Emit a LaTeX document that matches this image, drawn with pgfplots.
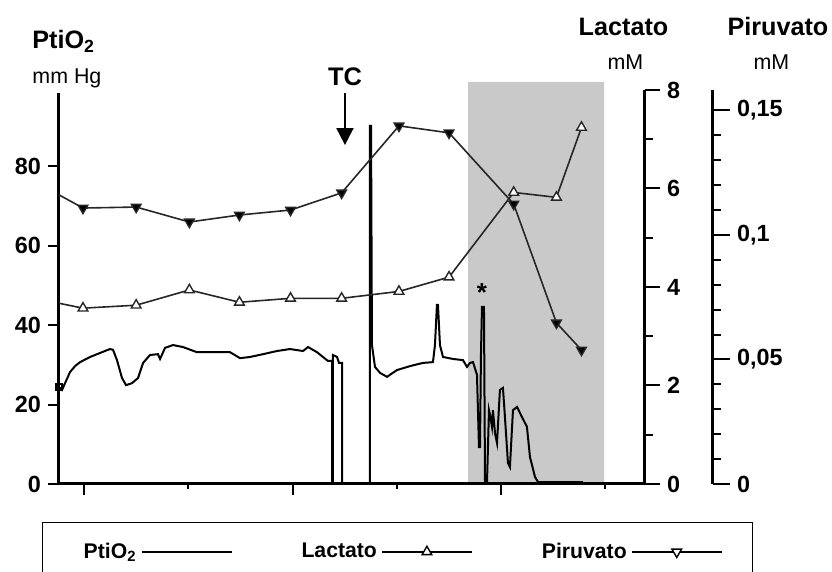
\documentclass[border=0pt]{standalone}
\usepackage{fontspec}
\setmainfont{Liberation Sans}
\usepackage{pgfplots}
\usepackage{pgfplotstable}
\pgfplotsset{compat=1.18}
\usetikzlibrary{arrows.meta}

% PtiO2 trace (mm Hg)
\pgfplotstableread{
x y
-0.240 24.4
-0.211 23.7
-0.182 25.4
-0.134 28.2
-0.086 29.7
-0.038 30.7
0.058 32.0
0.153 33.0
0.249 34.0
0.278 33.8
0.316 31.2
0.364 26.7
0.403 24.9
0.460 25.4
0.518 26.7
0.566 30.5
0.633 32.5
0.709 32.7
0.729 31.5
0.777 34.3
0.853 35.0
0.949 34.5
1.083 33.2
1.275 33.2
1.400 33.2
1.496 31.7
1.592 32.0
1.716 32.7
1.850 33.5
1.975 34.0
2.100 33.5
2.148 34.5
2.234 33.2
2.291 32.0
2.339 31.0
2.378 31.0
2.378 0
2.387 0
2.387 32.5
2.426 32.0
2.445 30.5
2.474 30.5
2.474 0
2.742 0
2.742 90.2
2.752 90.2
2.761 35.0
2.790 29.5
2.838 28.0
2.905 27.0
3.001 28.7
3.126 29.7
3.250 30.5
3.346 30.7
3.365 35.0
3.384 45.1
3.394 45.1
3.413 35.0
3.442 32.0
3.538 31.5
3.634 31.2
3.672 29.5
3.701 30.5
3.730 30.7
3.768 27.5
3.787 9.3
3.797 9.3
3.806 32.5
3.816 44.6
3.835 44.6
3.845 0.3
3.864 0.3
3.883 18.6
3.893 17.4
3.912 14.4
3.921 18.6
3.941 12.8
3.960 10.3
3.988 23.7
4.017 24.2
4.036 16.9
4.065 5.3
4.084 4.3
4.113 18.6
4.152 19.4
4.199 16.9
4.247 14.4
4.276 6.8
4.324 1.8
4.353 0.5
4.564 0.5
4.784 0.5
}\ptio

% Lactato (mM)
\pgfplotstableread{
x y
-0.24 3.67
-0.01 3.57
0.50 3.63
1.01 3.94
1.49 3.69
1.98 3.77
2.47 3.77
3.02 3.91
3.50 4.20
4.12 5.92
4.53 5.82
4.77 7.24
}\lactato

% Piruvato (mM)
\pgfplotstableread{
x y
-0.24 0.1161
-0.01 0.1108
0.50 0.1112
1.01 0.1052
1.49 0.1080
1.98 0.1100
2.47 0.1169
3.02 0.1438
3.50 0.1410
4.12 0.1124
4.53 0.0647
4.77 0.0538
}\piruvato

\pgfplotsset{
  common/.style={
    scale only axis, width=293pt, at={(0pt,0pt)}, anchor=south west,
    clip=false, tick align=outside,
    axis line style={line width=1.5pt, black},
    tick style={black, line width=1pt},
    tick label style={font=\bfseries\fontsize{11.7}{14}\selectfont},
    /pgf/number format/assume math mode=true,
  },
}

\begin{document}
\begin{tikzpicture}
\path[use as bounding box] (-29.5pt,-44pt) rectangle (386.5pt,242pt);

\begin{axis}[common,
  height=195.5pt,
  xmin=-0.24, xmax=5.379, ymin=0, ymax=98.5,
  axis x line*=bottom, axis y line*=left, axis on top,
  xtick={0,2,4}, minor xtick={1,3,5}, xticklabels={},
  ytick={0,20,40,60,80},
  major tick length=5.5pt, minor tick length=2.5pt,
  legend columns=3, legend plot pos=right,
  legend image code/.code={\draw[mark repeat=2,mark phase=2,#1] plot coordinates {(0pt,0pt)(22.5pt,0pt)(45pt,0pt)};},
  legend style={at={(-0.029,-0.0972)}, anchor=north west, draw=black, line width=0.7pt,
    inner xsep=15pt, inner ysep=8pt,
    font=\bfseries\fontsize{10.6}{12}\selectfont,
    /tikz/every even column/.append style={column sep=32.5pt}},
]
\addplot[fill=gray!42, draw=none, forget plot] coordinates {(3.682,0) (3.682,101.3) (4.986,101.3) (4.986,0)} \closedcycle;
\addplot[black, line width=1pt, mark=square, mark size=1.6pt, mark repeat=1000, mark options={line width=0.8pt}, forget plot] table[x=x,y=y] {\ptio};

\addlegendimage{black, line width=1pt}
\addlegendentry{\hspace*{3.5pt}PtiO\textsubscript{2}}
\addlegendimage{black, line width=1pt, mark=triangle*, mark size=2.8pt, mark options={fill=white, line width=0.7pt}}
\addlegendentry{Lactato}
\addlegendimage{black, line width=1pt, mark=triangle*, mark size=2.8pt, mark options={fill=white, rotate=180, line width=0.7pt}}
\addlegendentry{Piruvato}

\node[anchor=base west, inner sep=0pt, font=\bfseries\fontsize{12.6}{15}\selectfont] at (axis cs:-0.4986,109.8) {PtiO\textsubscript{2}};
\node[anchor=base west, inner sep=0pt, font=\fontsize{10.7}{13}\selectfont] at (axis cs:-0.4986,101.0) {mm Hg};
\node[anchor=base, inner sep=0pt, font=\bfseries\fontsize{12.6}{15}\selectfont] at (axis cs:5.173,113.1) {Lactato};
\node[anchor=base, inner sep=0pt, font=\fontsize{10.7}{13}\selectfont] at (axis cs:5.192,104.3) {mM};
\node[anchor=base, inner sep=0pt, font=\bfseries\fontsize{12.6}{15}\selectfont] at (axis cs:6.654,113.1) {Piruvato};
\node[anchor=base, inner sep=0pt, font=\fontsize{10.7}{13}\selectfont] at (axis cs:6.592,104.3) {mM};
\node[anchor=base, inner sep=0pt, font=\bfseries\fontsize{12.7}{15}\selectfont] at (axis cs:2.502,100.5) {TC};
\draw[-{Triangle[width=8.5pt,length=8.5pt]}, line width=1pt] (axis cs:2.502,98.5) -- (axis cs:2.502,85.4);
\node[inner sep=0pt, font=\bfseries\fontsize{13}{15}\selectfont] at (axis cs:3.816,48.3) {*};
\end{axis}

\begin{axis}[common,
  height=197pt,
  xmin=-0.24, xmax=5.379, ymin=0, ymax=8,
  axis x line=none, axis y line*=right,
  ytick={0,2,4,6,8}, minor ytick={1,3,5,7},
  major tick length=7.5pt, minor tick length=4pt,
]
\addplot[black!85, line width=0.8pt, mark=triangle*, mark size=2.8pt, mark repeat=1, mark phase=2,
  mark options={fill=white, solid, line width=0.7pt}] table[x=x,y=y] {\lactato};
\end{axis}

\begin{axis}[common,
  at={(34pt,0pt)},
  height=197pt,
  xmin=0.412, xmax=6.031, ymin=0, ymax=0.1582,
  axis x line=none, axis y line*=right,
  scaled y ticks=false,
  ytick={0,0.05,0.1,0.15}, yticklabels={0,{0,05},{0,1},{0,15}},
  minor ytick={0.01,0.02,0.03,0.04,0.06,0.07,0.08,0.09,0.11,0.12,0.13,0.14},
  major tick length=8.5pt, minor tick length=4pt,
]
\addplot[black!85, line width=0.8pt, mark=triangle*, mark size=2.8pt, mark repeat=1, mark phase=2,
  mark options={fill=black, rotate=180, solid, line width=0.7pt}] table[x=x,y=y] {\piruvato};
\end{axis}
\end{tikzpicture}
\end{document}
